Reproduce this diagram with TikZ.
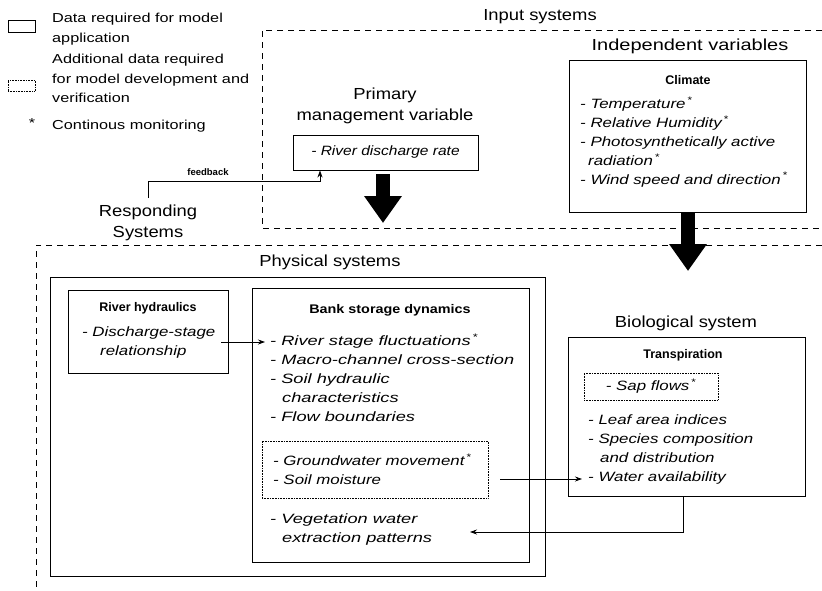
\documentclass[tikz,border=0pt]{standalone}
\usepackage{fontspec}
\setmainfont{Liberation Sans}
\newfontfamily\fX[FakeStretch=1.15]{Liberation Sans}
\newfontfamily\fY[FakeStretch=1.25]{Liberation Sans}
\newfontfamily\fZ[FakeStretch=1.35]{Liberation Sans}
\usetikzlibrary{arrows.meta}
\newcommand{\itmX}{\fX\fontsize{13.5}{18.8}\selectfont\itshape}
\newcommand{\itmY}{\fY\fontsize{13.5}{18.8}\selectfont\itshape}
\newcommand{\itmZ}{\fZ\fontsize{13.5}{18.8}\selectfont\itshape}
\newcommand{\ttl}{\fX\fontsize{16}{21}\selectfont}
\newcommand{\ttlw}{\fY\fontsize{16}{21}\selectfont}
\newcommand{\bld}{\fontsize{12.5}{15}\selectfont\bfseries}
\newcommand{\lgd}{\fY\fontsize{13}{19.5}\selectfont}
\newcommand{\st}{\textsuperscript{\,*}}
\begin{document}
\begin{tikzpicture}[x=1pt,y=-1pt,
  frame/.style={line width=0.8pt, dash pattern=on 6pt off 5pt},
  sbox/.style={draw, line width=0.9pt},
  dbox/.style={draw, line width=0.6pt, densely dotted},
  txt/.style={inner sep=0pt, align=left, anchor=north west},
  ctr/.style={inner sep=0pt, align=center},
  conn/.style={line width=0.8pt, -{Stealth[length=7pt,width=5pt]}},
  big/.style={line width=14pt, -{Triangle[length=27pt,width=36pt]}}]
\useasboundingbox (0,0) rectangle (822,590);
% legend
\node[sbox, minimum width=27pt, minimum height=12pt, inner sep=0pt] (lg1) at (21.5,26) {};
\node[dbox, minimum width=27pt, minimum height=11pt, inner sep=0pt] (lg2) at (21.5,85.5) {};
\node[txt, font=\lgd] (lgt1) at (52,13) {Data required for model\\application};
\node[txt, font=\lgd] (lgt2) at (52,54) {Additional data required\\for model development and\\verification};
\node[ctr, font=\lgd] (lgs) at (32,123) {*};
\node[txt, font=\lgd] (lgt3) at (52,120) {Continous monitoring};
% input systems
\node[ctr, font=\ttl] (inp) at (540,17) {Input systems};
\draw[frame] (822,30) -- (262,30) -- (262,228) -- (822,228);
\node[ctr, font=\ttlw] (indep) at (690,46) {Independent variables};
\node[sbox, minimum width=237pt, minimum height=152pt, inner sep=0pt] (clim) at (687.5,136) {};
\node[ctr, font=\bld] (climt) at (688,80) {Climate};
\node[txt, font=\itmY] (climi) at (580,97) {- Temperature\st\\- Relative Humidity\st\\- Photosynthetically active\\\hspace*{8pt}radiation\st\\- Wind speed and direction\st};
\node[ctr, font=\ttl] (prim) at (385,106) {Primary\\management variable};
\node[sbox, minimum width=185pt, minimum height=35pt, inner sep=0pt, font=\itmX] (rd) at (385.5,152.5) {- River discharge rate};
\coordinate (a1s) at (383,174);
\coordinate (a1e) at (383,223);
\draw[big] (a1s) -- (a1e);
\coordinate (a2s) at (688,212);
\coordinate (a2e) at (688,271);
\draw[big] (a2s) -- (a2e);
% feedback
\node[ctr, font=\ttl] (resp) at (148,223) {Responding\\Systems};
\coordinate (fbs) at (148,198);
\coordinate (fbm) at (320,181);
\draw[conn] (fbs) |- (fbm) -- (fbm |- rd.south);
\node[ctr, font=\fontsize{9.5}{11}\selectfont\bfseries] (fbl) at (208,172) {feedback};
% responding systems frame
\draw[frame] (822,245) -- (36,245) -- (36,592);
\node[ctr, font=\ttl] (phys) at (330,262) {Physical systems};
\node[sbox, minimum width=495pt, minimum height=299pt, inner sep=0pt] (physb) at (297.5,426.5) {};
\node[sbox, minimum width=160pt, minimum height=83pt, inner sep=0pt] (rh) at (148,331.5) {};
\node[ctr, font=\bld] (rht) at (148,308) {River hydraulics};
\node[txt, font=\itmY] (rhi) at (82,327) {- Discharge-stage\\\hspace*{18pt}relationship};
\node[sbox, minimum width=277pt, minimum height=274pt, inner sep=0pt] (bank) at (390.5,425) {};
\node[ctr, font={\fX\bld}] (bankt) at (390,310) {Bank storage dynamics};
\node[txt, font=\itmZ] (banki) at (270,334) {- River stage fluctuations\st\\- Macro-channel cross-section\\- Soil hydraulic\\\hspace*{12pt}characteristics\\- Flow boundaries};
\node[dbox, minimum width=226pt, minimum height=57pt, inner sep=0pt] (gw) at (375,469.5) {};
\node[txt, font=\itmY] (gwi) at (273,454) {- Groundwater movement\st\\- Soil moisture};
\node[txt, font=\itmZ] (veg) at (270,514) {- Vegetation water\\\hspace*{12pt}extraction patterns};
\coordinate (q1) at (221,342);
\coordinate (q2) at (265,342);
\draw[conn] (q1) -- (q2);
% biological
\node[ctr, font=\ttl] (bio) at (686,323) {Biological system};
\node[sbox, minimum width=237pt, minimum height=159pt, inner sep=0pt] (trans) at (686.5,417) {};
\node[ctr, font=\bld] (transt) at (683,355) {Transpiration};
\node[dbox, minimum width=134pt, minimum height=27pt, inner sep=0pt, font=\itmY] (sap) at (651,386.5) {- Sap flows\st};
\node[txt, font=\itmY] (tri) at (588,415) {- Leaf area indices\\- Species composition\\\hspace*{12pt}and distribution\\- Water availability};
\coordinate (w1) at (500,479);
\coordinate (w2) at (582,479);
\draw[conn] (w1) -- (w2);
\coordinate (r2) at (470,532);
\draw[conn] (trans.south -| 683,0) |- (r2);
\end{tikzpicture}
\end{document}
